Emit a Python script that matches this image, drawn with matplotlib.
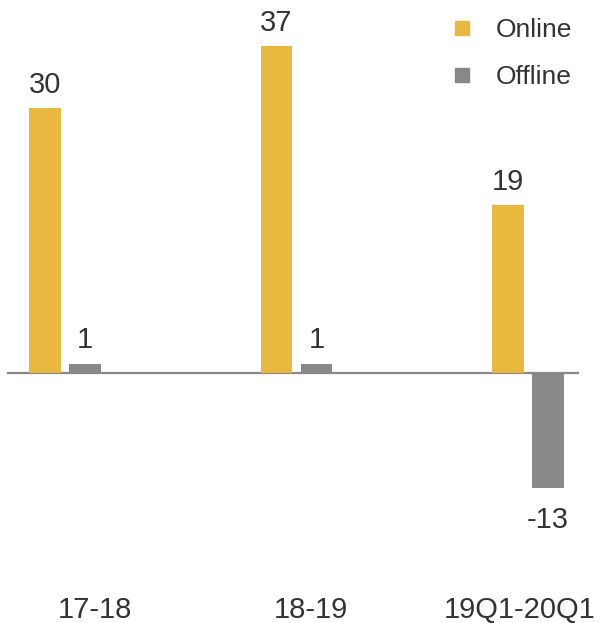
import numpy as np
import matplotlib
matplotlib.use('Agg')
import matplotlib.pyplot as plt
from matplotlib.lines import Line2D

periods = ['17-18', '18-19', '19Q1-20Q1']
online = [30, 37, 19]
offline = [1, 1, -13]

col_on = '#E8B93E'
col_off = '#888888'
txt = '#333333'

plt.rcParams['font.family'] = ['Liberation Sans', 'DejaVu Sans']

fig = plt.figure(figsize=(6.03, 6.23), dpi=100)
ax = fig.add_axes([0, 0, 1, 1])

x = np.arange(len(periods))
w = 0.138
off = 0.0864
ax.bar(x - off, online, w, color=col_on, label='Online')
ax.bar(x + off, offline, w, color=col_off, label='Offline')

# value labels above / below bars
for xi, v in zip(x - off, online):
    ax.text(xi, v + 1.0, str(v), ha='center', va='bottom', fontsize=21, color=txt)
for xi, v in zip(x + off, offline):
    if v >= 0:
        ax.text(xi, v + 1.2, str(v), ha='center', va='bottom', fontsize=21, color=txt)
    else:
        ax.text(xi, v - 2.0, str(v), ha='center', va='top', fontsize=21, color=txt)

# category names sit well below the chart
lab_shift = [0.13, 0.06, -0.035]
for xi, s, t in zip(x, lab_shift, periods):
    ax.text(xi + s, -26.8, t, ha='center', va='center', fontsize=21, color=txt)

ax.axhline(0, xmin=8 / 603, xmax=578 / 603, color=col_off, lw=1.6, zorder=0)

ax.set_xlim(-0.281, 2.324)
ax.set_ylim(-28.25, 42.15)
ax.axis('off')

handles = [Line2D([], [], ls='', marker='s', markersize=10, color=col_on),
           Line2D([], [], ls='', marker='s', markersize=10, color=col_off)]
ax.legend(handles, ['Online', 'Offline'], loc='upper right', bbox_to_anchor=(0.98, 1.0),
          frameon=False, fontsize=19, labelcolor=txt, handletextpad=0.3,
          labelspacing=0.85, borderaxespad=0.3)

fig.savefig('out.png', dpi=100)
